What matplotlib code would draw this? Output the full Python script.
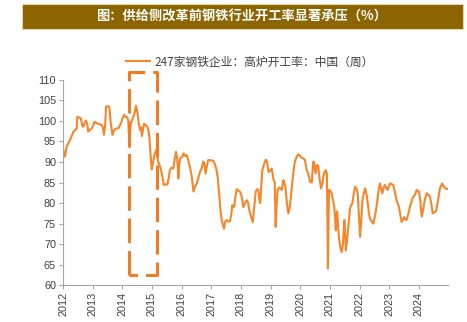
import matplotlib
matplotlib.use("Agg")
import matplotlib.pyplot as plt
from matplotlib.patches import Rectangle

plt.rcParams['font.family'] = ['Noto Sans CJK SC', 'DejaVu Sans']

# weekly blast furnace utilisation (decimal year, %)
years = [
    2012.00, 2012.04, 2012.07, 2012.12, 2012.17, 2012.24, 2012.30, 2012.35, 2012.42, 2012.46,
    2012.48, 2012.55, 2012.60, 2012.66, 2012.70, 2012.74, 2012.78, 2012.82, 2012.85, 2012.90,
    2012.97, 2013.02, 2013.06, 2013.12, 2013.19, 2013.25, 2013.30, 2013.34, 2013.38, 2013.42,
    2013.45, 2013.52, 2013.56, 2013.61, 2013.64, 2013.67, 2013.71, 2013.75, 2013.81, 2013.87,
    2013.92, 2013.95, 2014.00, 2014.06, 2014.10, 2014.15, 2014.20, 2014.22, 2014.24, 2014.26,
    2014.29, 2014.33, 2014.37, 2014.42, 2014.46, 2014.51, 2014.55, 2014.60, 2014.63, 2014.66,
    2014.70, 2014.73, 2014.78, 2014.84, 2014.88, 2014.91, 2014.95, 2014.99, 2015.04, 2015.08,
    2015.12, 2015.16, 2015.21, 2015.26, 2015.30, 2015.35, 2015.40, 2015.46, 2015.52, 2015.56,
    2015.60, 2015.66, 2015.72, 2015.76, 2015.81, 2015.85, 2015.89, 2015.92, 2015.96, 2016.02,
    2016.06, 2016.12, 2016.17, 2016.22, 2016.28, 2016.34, 2016.40, 2016.45, 2016.51, 2016.56,
    2016.62, 2016.68, 2016.73, 2016.77, 2016.81, 2016.85, 2016.90, 2016.96, 2017.02, 2017.07,
    2017.12, 2017.18, 2017.22, 2017.26, 2017.30, 2017.35, 2017.40, 2017.43, 2017.47, 2017.52,
    2017.57, 2017.63, 2017.67, 2017.71, 2017.75, 2017.78, 2017.82, 2017.86, 2017.92, 2017.97,
    2018.03, 2018.08, 2018.14, 2018.20, 2018.24, 2018.27, 2018.33, 2018.40, 2018.45, 2018.50,
    2018.55, 2018.59, 2018.62, 2018.65, 2018.70, 2018.72, 2018.78, 2018.84, 2018.88, 2018.93,
    2018.98, 2019.04, 2019.09, 2019.14, 2019.17, 2019.21, 2019.24, 2019.30, 2019.38, 2019.43,
    2019.46, 2019.50, 2019.55, 2019.60, 2019.65, 2019.71, 2019.77, 2019.82, 2019.88, 2019.94,
    2019.99, 2020.05, 2020.10, 2020.16, 2020.22, 2020.27, 2020.33, 2020.39, 2020.44, 2020.47,
    2020.52, 2020.57, 2020.61, 2020.65, 2020.70, 2020.74, 2020.78, 2020.82, 2020.86, 2020.90,
    2020.935, 2020.97, 2021.02, 2021.06, 2021.10, 2021.15, 2021.20, 2021.23, 2021.25, 2021.28,
    2021.31, 2021.36, 2021.40, 2021.44, 2021.49, 2021.52, 2021.54, 2021.58, 2021.62, 2021.68,
    2021.72, 2021.76, 2021.80, 2021.85, 2021.90, 2021.94, 2021.98, 2022.02, 2022.06, 2022.10,
    2022.15, 2022.19, 2022.24, 2022.28, 2022.32, 2022.35, 2022.41, 2022.47, 2022.51, 2022.55,
    2022.61, 2022.65, 2022.69, 2022.73, 2022.77, 2022.82, 2022.86, 2022.91, 2022.95, 2023.00,
    2023.03, 2023.09, 2023.14, 2023.20, 2023.25, 2023.33, 2023.38, 2023.42, 2023.47, 2023.51,
    2023.55, 2023.59, 2023.65, 2023.70, 2023.76, 2023.81, 2023.87, 2023.93, 2023.97, 2024.01,
    2024.05, 2024.10, 2024.15, 2024.19, 2024.23, 2024.27, 2024.33, 2024.38, 2024.43, 2024.47,
    2024.53, 2024.58, 2024.62, 2024.66, 2024.71, 2024.75, 2024.79, 2024.84, 2024.88, 2024.93,
    2024.98,
]
rate = [
    93.7, 91.3, 91.5, 93.7, 94.5, 95.4, 96.5, 97.4, 97.8, 98.2,
    101.0, 100.8, 100.6, 98.6, 98.8, 99.8, 100.1, 99.0, 97.4, 97.8,
    98.2, 99.0, 99.8, 99.5, 99.3, 99.2, 99.0, 98.5, 96.6, 99.0,
    103.5, 103.6, 103.4, 99.4, 98.0, 96.6, 97.5, 98.0, 98.2, 98.2,
    99.0, 99.4, 100.5, 101.5, 101.0, 101.0, 100.3, 97.0, 93.6, 97.5,
    99.3, 100.2, 101.0, 102.0, 103.7, 102.2, 99.5, 97.8, 98.5, 96.3,
    98.0, 99.3, 99.0, 98.6, 97.8, 96.3, 92.0, 88.2, 90.0, 91.7,
    92.5, 93.1, 90.1, 89.2, 88.2, 86.5, 84.4, 84.6, 84.5, 86.0,
    88.0, 88.6, 88.4, 90.5, 92.5, 91.0, 86.0, 89.5, 91.0, 91.2,
    92.1, 91.5, 91.7, 90.5, 88.9, 86.5, 82.8, 84.0, 84.8, 86.0,
    87.6, 88.5, 90.1, 89.5, 87.2, 89.0, 90.5, 90.4, 90.4, 90.3,
    89.5, 88.0, 86.0, 82.8, 79.0, 75.9, 74.6, 73.8, 75.5, 75.9,
    75.5, 75.6, 77.0, 79.5, 79.0, 79.3, 82.0, 83.4, 83.0, 82.8,
    81.5, 79.0, 80.0, 80.7, 80.2, 78.7, 77.0, 75.4, 79.0, 82.8,
    83.4, 83.2, 81.0, 80.0, 85.6, 88.0, 89.5, 90.6, 90.0, 87.6,
    87.8, 88.4, 86.0, 85.0, 74.2, 80.0, 83.2, 83.8, 83.2, 85.6,
    85.2, 84.0, 80.0, 77.5, 79.0, 83.2, 87.6, 90.0, 91.3, 91.9,
    91.5, 91.0, 90.9, 90.5, 88.0, 87.2, 85.2, 85.0, 90.1, 89.7,
    87.2, 89.3, 89.0, 86.0, 83.6, 84.5, 86.4, 87.5, 88.0, 87.2,
    64.1, 83.2, 83.0, 82.4, 81.0, 79.1, 73.4, 77.5, 78.0, 74.0,
    71.4, 69.0, 68.1, 70.0, 75.9, 72.0, 68.5, 71.0, 74.2, 78.7,
    79.5, 79.9, 82.0, 84.0, 83.5, 82.4, 77.0, 71.8, 76.0, 80.7,
    82.5, 83.6, 82.0, 79.9, 77.5, 76.3, 75.5, 75.0, 76.5, 78.0,
    81.1, 83.5, 84.8, 83.5, 82.4, 84.0, 84.4, 83.6, 83.2, 84.3,
    84.8, 84.6, 84.4, 82.5, 80.7, 79.1, 77.0, 75.4, 76.0, 76.6,
    76.0, 75.9, 77.5, 79.1, 80.5, 81.5, 82.0, 83.2, 83.0, 82.8,
    80.5, 76.7, 78.5, 80.3, 81.5, 82.4, 82.0, 81.5, 79.5, 77.5,
    77.8, 78.0, 79.5, 81.1, 83.6, 84.2, 84.8, 84.0, 83.8, 83.4,
    83.5,
]
year_ticks = list(range(2012, 2025))
y_ticks = list(range(60, 111, 5))

# highlighted window (supply-side reform period)
box_x = [2014.23, 2015.18]
box_y = [62.4, 111.9]

title = '图：供给侧改革前钢铁行业开工率显著承压（%）'
series_name = '247家钢铁企业：高炉开工率：中国（周）'

orange = '#F7862A'

fig = plt.figure(figsize=(4.67, 3.22), dpi=100)
ax = fig.add_axes([0.135, 0.114, 0.824, 0.638])

ax.plot(years, rate, color=orange, lw=1.5, label=series_name)

# dashed box, allowed to run above the plot area
bx = [box_x[0], box_x[0], box_x[1], box_x[1], box_x[0]]
by = [box_y[0], box_y[1], box_y[1], box_y[0], box_y[0]]
ax.plot(bx, by, color='#F47C20', lw=2.2, ls=(0, (8, 2.6)), clip_on=False)

ax.set_xlim(years[0], years[-1])
ax.set_ylim(60, 110)
ax.set_xticks(year_ticks)
ax.set_xticklabels([str(y) for y in year_ticks], rotation=90)
ax.set_yticks(y_ticks)

for s in ['top', 'right']:
    ax.spines[s].set_visible(False)
for s in ['left', 'bottom']:
    ax.spines[s].set_color('#A6A6A6')
    ax.spines[s].set_linewidth(0.8)
ax.tick_params(axis='both', length=3, width=0.8, color='#A6A6A6', labelcolor='#404040', labelsize=7.8, pad=2)
for lab in ax.get_xticklabels() + ax.get_yticklabels():
    lab.set_family(['Liberation Sans', 'DejaVu Sans'])

leg = ax.legend(loc='center', bbox_to_anchor=(0.535, 0.8075), bbox_transform=fig.transFigure,
                frameon=False, fontsize=8.5, handlelength=2.0, handletextpad=0.4)
for t in leg.get_texts():
    t.set_color('#404040')

# title banner
fig.patches.append(Rectangle((0.047, 0.909), 0.944, 0.0776, transform=fig.transFigure,
                             facecolor='#8C6400', edgecolor='#E6D5A8', lw=0.8))
fig.text(0.518, 0.948, title, color='white', fontsize=9.5, fontweight='bold',
         ha='center', va='center')

fig.savefig('out.png', dpi=100)
